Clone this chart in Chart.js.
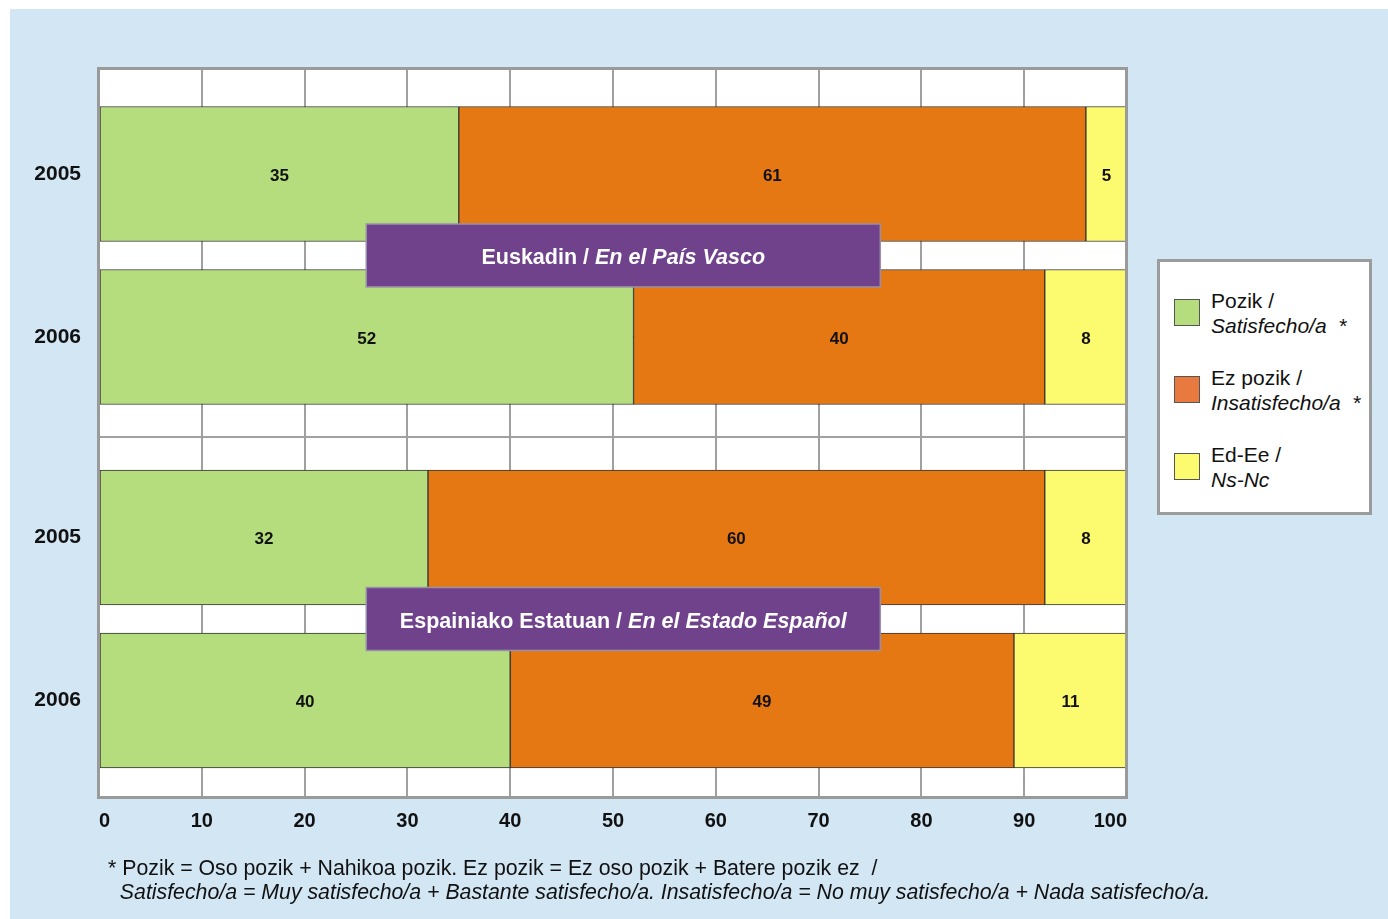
<!DOCTYPE html>
<html lang="eu">
<head>
<meta charset="UTF-8">
<title>Pozik / Satisfecho</title>
<script src="https://cdn.jsdelivr.net/npm/chart.js@4.4.0/dist/chart.umd.min.js"></script>
<style>
    body { margin: 0; background: #fff; font-family: "Liberation Sans", Arial, sans-serif; }
    #bg { position: absolute; left: 10px; top: 9px; width: 1378px; height: 910px; background: #d3e6f4; }
    #wrap { position: absolute; left: 0; top: 0; width: 1388px; height: 919px; }
    #legend { position: absolute; left: 1157px; top: 259px; width: 215px; height: 256px; box-sizing: border-box;
              border: 3px solid #9c9c9c; background: #fff; }
    .item { position: absolute; left: 14px; font-size: 21px; line-height: 25px; color: #111; }
    .sw { position: absolute; left: 0; top: 11px; width: 26px; height: 27px; border: 1px solid #555; box-sizing: border-box; }
    .txt { position: absolute; left: 37px; top: 0; white-space: nowrap; }
    #note { position: absolute; left: 108px; top: 856px; font-size: 21.3px; line-height: 24px; color: #111; white-space: nowrap; }
</style>
</head>
<body>
<div id="bg"></div>
<div id="wrap">
    <canvas id="chart" width="1388" height="919"></canvas>
</div>
<div id="legend"></div>
<div id="note">* Pozik = Oso pozik + Nahikoa pozik. Ez pozik = Ez oso pozik + Batere pozik ez&nbsp;&nbsp;/<br>
&nbsp;&nbsp;<i>Satisfecho/a = Muy satisfecho/a + Bastante satisfecho/a. Insatisfecho/a = No muy satisfecho/a + Nada satisfecho/a.</i></div>

<script>
// rows (top to bottom) and where they sit on the y axis
const rowLabels = ['2005', '2006', '2005', '2006'];
const rowPos = [1, 2, 3.23, 4.23];
const groupBreak = 2.615;

// percentages
const pozik = [35, 52, 32, 40];
const ezPozik = [61, 40, 60, 49];
const edEe = [5, 8, 8, 11];

const seriesNames = [['Pozik /', 'Satisfecho/a  *'], ['Ez pozik /', 'Insatisfecho/a  *'], ['Ed-Ee /', 'Ns-Nc']];
const colors = ['#b5dc7d', '#e67814', '#fcfa6e'];
const legendColors = ['#b5dc7d', '#e87a40', '#fcfa6e'];

// purple group titles
const groupTitles = [['Euskadin / ', 'En el País Vasco'], ['Espainiako Estatuan / ', 'En el Estado Español']];
const groupCenters = [1.5, 3.73];
const titleFrom = 26, titleTo = 76, titleHalf = 0.193;

const FONT = '"Liberation Sans", Arial, sans-serif';

function pts(arr) {
    return arr.map((v, i) => ({ x: v, y: rowPos[i] }));
}

const ctx = document.getElementById('chart').getContext('2d');

const decor = {
    id: 'decor',
    beforeDraw(chart) {
        const a = chart.chartArea, c = chart.ctx;
        c.save();
        c.fillStyle = '#fff';
        c.fillRect(a.left, a.top, a.right - a.left, a.bottom - a.top);
        c.restore();
    },
    afterDatasetsDraw(chart) {
        const a = chart.chartArea, c = chart.ctx;
        const xs = chart.scales.x, ys = chart.scales.y;
        c.save();
        // value labels
        c.font = 'bold 17px ' + FONT;
        c.fillStyle = '#111';
        c.textAlign = 'center';
        c.textBaseline = 'middle';
        chart.data.datasets.forEach((ds, di) => {
            chart.getDatasetMeta(di).data.forEach((bar, i) => {
                const l = Math.max(Math.min(bar.x, bar.base), a.left);
                const r = Math.min(Math.max(bar.x, bar.base), a.right);
                c.fillText(String(ds.data[i].x), (l + r) / 2, bar.y + 2);
            });
        });
        // frame
        c.strokeStyle = '#9a9a9a';
        c.lineWidth = 3;
        c.strokeRect(a.left - 0.5, a.top + 0.5, a.right - a.left, a.bottom - a.top);
        // group titles
        groupTitles.forEach((t, k) => {
            const x0 = xs.getPixelForValue(titleFrom), x1 = xs.getPixelForValue(titleTo);
            const y0 = ys.getPixelForValue(groupCenters[k] - titleHalf), y1 = ys.getPixelForValue(groupCenters[k] + titleHalf);
            c.fillStyle = '#6f428b';
            c.fillRect(x0, y0, x1 - x0, y1 - y0);
            c.strokeStyle = '#9890a8';
            c.lineWidth = 1.5;
            c.strokeRect(x0, y0, x1 - x0, y1 - y0);
            const f1 = 'bold 21.5px ' + FONT, f2 = 'italic bold 21.5px ' + FONT;
            c.font = f1; const w1 = c.measureText(t[0]).width;
            c.font = f2; const w2 = c.measureText(t[1]).width;
            let x = (x0 + x1) / 2 - (w1 + w2) / 2;
            const y = (y0 + y1) / 2 + 3;
            c.fillStyle = '#fff';
            c.textAlign = 'left';
            c.font = f1; c.fillText(t[0], x, y);
            c.font = f2; c.fillText(t[1], x + w1, y);
        });
        c.restore();
    }
};

const chart = new Chart(ctx, {
    type: 'bar',
    data: {
        datasets: [
            { label: seriesNames[0].join(' '), data: pts(pozik), backgroundColor: colors[0] },
            { label: seriesNames[1].join(' '), data: pts(ezPozik), backgroundColor: colors[1] },
            { label: seriesNames[2].join(' '), data: pts(edEe), backgroundColor: colors[2] }
        ]
    },
    options: {
        indexAxis: 'y',
        responsive: false,
        animation: false,
        layout: { padding: { top: 68, right: 261, left: 0, bottom: 0 } },
        datasets: { bar: { barThickness: 135, borderWidth: 1, borderColor: '#333', borderSkipped: false } },
        plugins: { legend: { display: false }, tooltip: { enabled: false } },
        scales: {
            x: {
                stacked: true,
                min: 0, max: 100,
                ticks: { stepSize: 10, align: 'inner', padding: 12, color: '#111', font: { family: FONT, size: 20, weight: 'bold' } },
                grid: { color: '#a0a0a0', lineWidth: 2, drawTicks: false },
                border: { display: false },
                afterFit(s) { s.height = 122; }
            },
            y: {
                type: 'linear',
                stacked: true,
                reverse: true,
                offset: false,
                min: 0.35, max: 4.822,
                afterBuildTicks(s) { s.ticks = rowPos.concat([groupBreak]).map(v => ({ value: v })); },
                ticks: {
                    padding: 18, color: '#111', font: { family: FONT, size: 21, weight: 'bold' },
                    callback(v) { const i = rowPos.indexOf(v); return i >= 0 ? rowLabels[i] : ''; }
                },
                grid: { color: '#a0a0a0', lineWidth: 2, drawTicks: false, offset: false },
                border: { display: false },
                afterFit(s) { s.width = 99; }
            }
        }
    },
    plugins: [decor]
});

// legend box
const lg = document.getElementById('legend');
const tops = [26, 103, 180];
seriesNames.forEach((n, i) => {
    const d = document.createElement('div');
    d.className = 'item';
    d.style.top = tops[i] + 'px';
    d.innerHTML = '<div class="sw" style="background:' + legendColors[i] + '"></div>' +
        '<div class="txt">' + n[0] + '<br><i>' + n[1].replace('  ', '&nbsp;&nbsp;') + '</i></div>';
    lg.appendChild(d);
});
</script>
</body>
</html>
